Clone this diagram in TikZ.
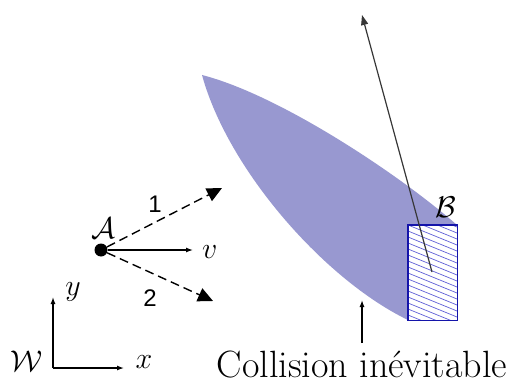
\RequirePackage{fix-cm}
\documentclass[tikz,border=0pt]{standalone}
\usepackage{amsmath}
\usepackage{fontspec}
\newfontfamily\labelfont{Liberation Sans}
\usetikzlibrary{arrows.meta}

\definecolor{zonefill}{RGB}{152,152,208}
\definecolor{obsblue}{RGB}{20,20,170}
\definecolor{hatchblue}{RGB}{95,95,215}
\definecolor{trajgray}{RGB}{55,55,55}

\begin{document}
\begin{tikzpicture}[
    x=1pt, y=-1pt,
    mathlabel/.style={inner sep=0pt, font=\fontsize{30}{34}\selectfont},
    numlabel/.style={inner sep=0pt, font=\labelfont\fontsize{24}{28}\selectfont},
    axis/.style={-{Latex[length=7pt,width=5pt]}, line width=1.3pt},
    choice/.style={dash pattern=on 9pt off 5pt, line width=1.4pt, -{Triangle[length=15pt,width=14pt]}},
]
    \useasboundingbox (0,0) rectangle (516,385);

    % zone of inevitable collision
    \fill[zonefill] (202,75) .. controls (280,95) and (400,175) .. (457,225) -- (457,320)
        -- (408,320) .. controls (325,280) and (228,170) .. (202,75) -- cycle;

    % obstacle
    \node[fill=white, minimum width=49pt, minimum height=95pt, inner sep=0pt, anchor=north west] (obs) at (408,225) {};
    \begin{scope}
        \clip (obs.north west) rectangle (obs.south east);
        \foreach \k in {-4,...,17}
            \draw[hatchblue, line width=0.7pt] (408,{225+\k*6}) -- ++(49,20);
    \end{scope}
    \draw[obsblue, line width=1.3pt] (obs.north west) rectangle (obs.south east);
    \node[mathlabel] (blabel) at (446,207) {$\mathcal{B}$};

    % trajectory of B
    \coordinate (start) at (432,272);
    \coordinate (goal) at (362,15);
    \draw[trajgray, line width=1.2pt, -{Triangle[length=10pt,width=7pt]}] (start) -- (goal);

    % robot A and its choices
    \node[circle, fill=black, inner sep=0pt, minimum size=13pt] (robot) at (101,250) {};
    \node[mathlabel] (alabel) at (103,228) {$\mathcal{A}$};
    \coordinate (vend) at (193,250);
    \draw[axis] (robot) -- (vend);
    \node[mathlabel, anchor=west] (vlabel) at (202,252) {$v$};

    \coordinate (dir1) at (222,188);
    \coordinate (dir2) at (213,301);
    \draw[choice] (robot) -- (dir1);
    \draw[choice] (robot) -- (dir2);
    \node[numlabel] (one) at (155,204) {1};
    \node[numlabel] (two) at (150,298) {2};

    % world frame
    \coordinate (origin) at (53,368);
    \coordinate (xend) at (124,368);
    \coordinate (yend) at (53,297);
    \draw[axis] (origin) -- (xend);
    \draw[axis] (origin) -- (yend);
    \node[mathlabel] (wlabel) at (27,361) {$\mathcal{W}$};
    \node[mathlabel] (xlabel) at (144,362) {$x$};
    \node[mathlabel] (ylabel) at (73,292) {$y$};

    % caption
    \node[inner sep=0pt, font=\fontsize{38}{44}\selectfont] (caption) at (362,365) {Collision inévitable};
    \coordinate (captop) at (362,343);
    \coordinate (target) at (362,300);
    \draw[axis] (captop) -- (target);
\end{tikzpicture}
\end{document}
